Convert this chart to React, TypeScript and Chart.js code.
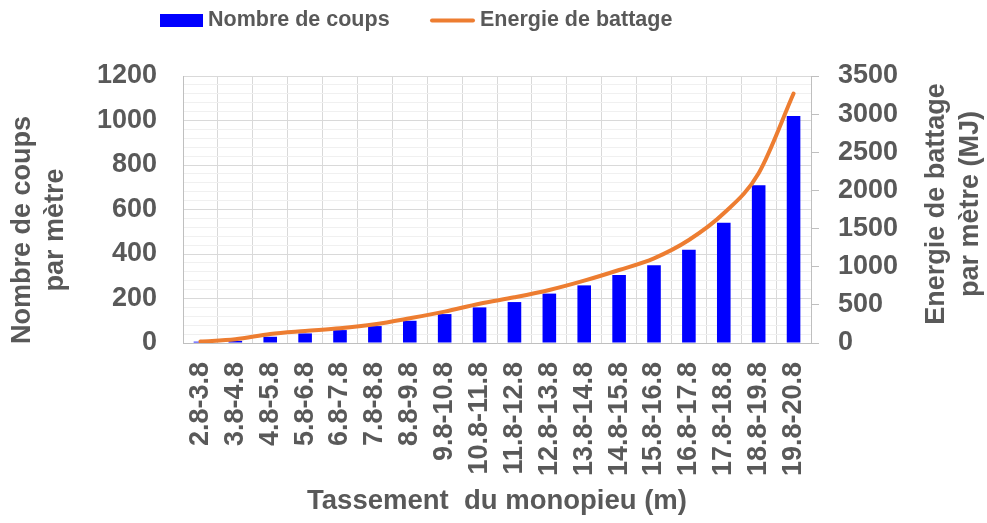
import React, { useEffect, useRef } from 'react';
import { Chart, registerables } from 'chart.js';

Chart.register(...registerables);

const categories = [
  '2.8-3.8', '3.8-4.8', '4.8-5.8', '5.8-6.8', '6.8-7.8', '7.8-8.8', '8.8-9.8', '9.8-10.8',
  '10.8-11.8', '11.8-12.8', '12.8-13.8', '13.8-14.8', '14.8-15.8', '15.8-16.8', '16.8-17.8',
  '17.8-18.8', '18.8-19.8', '19.8-20.8',
];
const nombreDeCoups = [6, 10, 28, 43, 58, 76, 100, 130, 160, 184, 222, 259, 306, 350, 419, 541, 709, 1020];
const energieDeBattage = [20, 48, 118, 157, 192, 245, 324, 411, 515, 599, 695, 817, 957, 1110, 1350, 1700, 2225, 3270];

const seriesNames = ['Nombre de coups', 'Energie de battage'];
const leftAxisTitle = ['Nombre de coups', 'par mètre'];
const rightAxisTitle = ['Energie de battage', 'par mètre (MJ)'];
const xAxisTitle = 'Tassement  du monopieu (m)';
const leftMax = 1200;
const leftMajorStep = 200;
const leftMinorStep = 40;
const rightMax = 3500;
const rightStep = 500;

const FONT = "'Liberation Sans', Arial, sans-serif";
const TEXT = '#595959';
const BLUE = '#0000FF';
const ORANGE = '#ED7D31';

const overlayPlugin = {
  id: 'overlay',
  afterDraw(chart: any) {
    const ctx = chart.ctx;
    ctx.save();
    ctx.fillStyle = TEXT;
    // legend
    ctx.font = `bold 21.5px ${FONT}`;
    ctx.textBaseline = 'middle';
    ctx.textAlign = 'left';
    ctx.fillStyle = BLUE;
    ctx.fillRect(160, 14, 43, 13);
    ctx.fillStyle = TEXT;
    ctx.fillText(seriesNames[0], 208, 20.5);
    ctx.strokeStyle = ORANGE;
    ctx.lineWidth = 4;
    ctx.lineCap = 'round';
    ctx.beginPath();
    ctx.moveTo(432, 20.5);
    ctx.lineTo(473, 20.5);
    ctx.stroke();
    ctx.fillText(seriesNames[1], 480, 20.5);

    // axis titles
    ctx.font = `bold 27px ${FONT}`;
    ctx.textAlign = 'center';
    ctx.textBaseline = 'middle';
    const drawRot = (lines: string[], xs: number[], cy: number) => {
      lines.forEach((t, i) => {
        ctx.save();
        ctx.translate(xs[i], cy);
        ctx.rotate(-Math.PI / 2);
        ctx.fillText(t, 0, 0);
        ctx.restore();
      });
    };
    drawRot(leftAxisTitle, [23, 56], 230);
    drawRot(rightAxisTitle, [937, 971], 204);
    const area = chart.chartArea;
    ctx.font = `bold 27.5px ${FONT}`;
    ctx.fillText(xAxisTitle, (area.left + area.right) / 2, 501);
    ctx.restore();
  },
};

export default function App() {
  const ref = useRef<HTMLCanvasElement>(null);
  useEffect(() => {
    if (!ref.current) return;
    const chart = new Chart(ref.current, {
      type: 'bar',
      data: {
        labels: categories,
        datasets: [
          {
            type: 'line',
            label: seriesNames[1],
            data: energieDeBattage,
            yAxisID: 'y2',
            borderColor: ORANGE,
            backgroundColor: ORANGE,
            borderWidth: 4,
            pointRadius: 0,
            cubicInterpolationMode: 'monotone',
            borderCapStyle: 'round',
            order: 0,
          } as any,
          {
            type: 'bar',
            label: seriesNames[0],
            data: nombreDeCoups,
            yAxisID: 'y',
            backgroundColor: BLUE,
            borderWidth: 0,
            barPercentage: 0.39,
            categoryPercentage: 1,
            order: 1,
          },
        ],
      },
      options: {
        responsive: false,
        animation: false,
        layout: { padding: { top: 76, left: 0, right: 0, bottom: 0 } },
        plugins: { legend: { display: false }, tooltip: { enabled: false } },
        scales: {
          x: {
            offset: true,
            grid: { offset: true, color: '#d9d9d9', drawTicks: false },
            border: { color: '#bfbfbf' },
            ticks: {
              autoSkip: false,
              maxRotation: 90,
              minRotation: 90,
              padding: 19,
              color: TEXT,
              font: { family: FONT, size: 27, weight: 'bold' },
            },
            afterFit: (s: any) => { s.height = 523 - 343; },
          },
          y: {
            position: 'left',
            min: 0,
            max: leftMax,
            grid: {
              drawTicks: false,
              color: (c: any) => (c.tick && c.tick.value % leftMajorStep === 0 ? '#d9d9d9' : '#f0f0f0'),
            },
            border: { color: '#bfbfbf' },
            ticks: {
              stepSize: leftMinorStep,
              autoSkip: false,
              padding: 26,
              color: TEXT,
              font: { family: FONT, size: 27, weight: 'bold' },
              callback: (v: any) => (Number(v) % leftMajorStep === 0 ? String(v) : ''),
            },
            afterFit: (s: any) => { s.width = 183; },
          },
          y2: {
            position: 'right',
            min: 0,
            max: rightMax,
            grid: { drawOnChartArea: false, drawTicks: true, tickLength: 8, color: '#bfbfbf' },
            border: { color: '#bfbfbf' },
            ticks: {
              stepSize: rightStep,
              padding: 19,
              color: TEXT,
              font: { family: FONT, size: 27, weight: 'bold' },
              callback: (v: any) => String(v),
            },
            afterFit: (s: any) => { s.width = 987 - 811; },
          },
        },
      },
      plugins: [overlayPlugin],
    });
    return () => chart.destroy();
  }, []);
  return (
    <div style={{ position: 'absolute', left: 0, top: 0, width: 987, height: 523 }}>
      <canvas ref={ref} width={987} height={523} style={{ display: 'block' }} />
    </div>
  );
}
